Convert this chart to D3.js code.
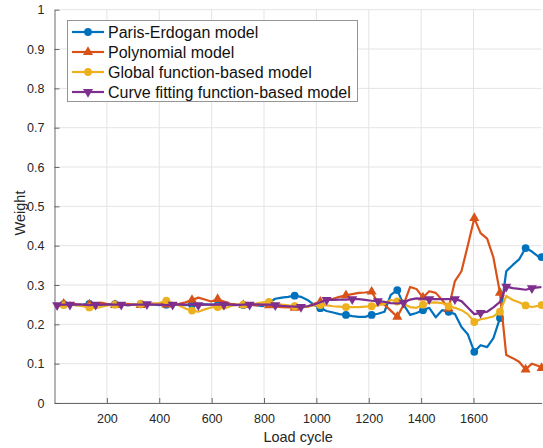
<!DOCTYPE html>
<html>
<head>
<meta charset="utf-8">
<script src="https://cdn.jsdelivr.net/npm/d3@7/dist/d3.min.js"></script>
<style>
	body { margin: 0; background: #fff; }
	svg { display: block; font-family: "Liberation Sans", Arial, Helvetica, sans-serif; }
</style>
</head>
<body>
<svg id="chart" width="543" height="448"></svg>
<script>

// Load cycles where the weights were sampled
const loadCycles = [10, 35, 59, 84, 108, 133, 157, 182, 206, 231,
	255, 280, 304, 329, 353, 378, 402, 427, 451, 476,
	500, 525, 549, 574, 598, 623, 647, 672, 696, 721,
	745, 770, 794, 819, 843, 868, 892, 917, 941, 966,
	990, 1015, 1039, 1064, 1088, 1113, 1137, 1162, 1186, 1211,
	1235, 1260, 1284, 1309, 1333, 1358, 1382, 1407, 1431, 1456,
	1480, 1505, 1529, 1554, 1578, 1603, 1627, 1652, 1676, 1701,
	1725, 1750, 1774, 1799, 1823, 1848, 1860];

// Weights
const parisErdogan = [0.25, 0.251, 0.25, 0.249, 0.25, 0.252, 0.251, 0.249, 0.25, 0.251,
	0.25, 0.249, 0.25, 0.251, 0.252, 0.25, 0.249, 0.25, 0.251, 0.25,
	0.249, 0.25, 0.252, 0.251, 0.25, 0.249, 0.25, 0.251, 0.25, 0.249,
	0.25, 0.249, 0.246, 0.255, 0.265, 0.268, 0.27, 0.273, 0.27, 0.262,
	0.25, 0.241, 0.234, 0.23, 0.226, 0.224, 0.221, 0.219, 0.219, 0.224,
	0.227, 0.232, 0.275, 0.287, 0.25, 0.224, 0.229, 0.236, 0.242, 0.218,
	0.236, 0.232, 0.226, 0.193, 0.175, 0.13, 0.147, 0.142, 0.165, 0.216,
	0.335, 0.351, 0.365, 0.394, 0.385, 0.372, 0.371];

const polynomial = [0.25, 0.252, 0.255, 0.251, 0.249, 0.25, 0.253, 0.255, 0.251, 0.249,
	0.25, 0.252, 0.25, 0.249, 0.251, 0.253, 0.252, 0.25, 0.249, 0.252,
	0.256, 0.262, 0.268, 0.263, 0.258, 0.264, 0.258, 0.252, 0.25, 0.249,
	0.25, 0.248, 0.25, 0.248, 0.245, 0.244, 0.243, 0.242, 0.243, 0.245,
	0.252, 0.257, 0.262, 0.265, 0.27, 0.274, 0.277, 0.28, 0.281, 0.283,
	0.255, 0.25, 0.235, 0.219, 0.25, 0.295, 0.29, 0.268, 0.284, 0.28,
	0.262, 0.24, 0.31, 0.335, 0.40, 0.47, 0.432, 0.418, 0.37, 0.28,
	0.122, 0.114, 0.105, 0.085, 0.1, 0.094, 0.089];

const globalFunction = [0.25, 0.249, 0.251, 0.248, 0.246, 0.243, 0.241, 0.245, 0.249, 0.25,
	0.251, 0.249, 0.25, 0.252, 0.25, 0.251, 0.255, 0.26, 0.254, 0.248,
	0.24, 0.235, 0.232, 0.238, 0.243, 0.244, 0.24, 0.246, 0.25, 0.25,
	0.251, 0.253, 0.256, 0.257, 0.253, 0.25, 0.248, 0.246, 0.244, 0.245,
	0.248, 0.249, 0.248, 0.246, 0.245, 0.244, 0.244, 0.244, 0.245, 0.246,
	0.248, 0.252, 0.262, 0.258, 0.252, 0.244, 0.242, 0.25, 0.255, 0.256,
	0.254, 0.246, 0.242, 0.236, 0.226, 0.206, 0.213, 0.216, 0.22, 0.232,
	0.272, 0.262, 0.256, 0.248, 0.244, 0.247, 0.249];

const curveFitting = [0.249, 0.25, 0.25, 0.251, 0.25, 0.249, 0.25, 0.25, 0.251, 0.25,
	0.25, 0.249, 0.25, 0.25, 0.251, 0.25, 0.25, 0.249, 0.25, 0.251,
	0.25, 0.25, 0.249, 0.25, 0.25, 0.251, 0.25, 0.25, 0.249, 0.25,
	0.25, 0.251, 0.25, 0.25, 0.249, 0.247, 0.246, 0.245, 0.244, 0.246,
	0.25, 0.256, 0.262, 0.262, 0.263, 0.263, 0.264, 0.264, 0.262, 0.26,
	0.259, 0.257, 0.254, 0.253, 0.255, 0.263, 0.266, 0.265, 0.264, 0.264,
	0.264, 0.264, 0.264, 0.259, 0.243, 0.226, 0.229, 0.232, 0.243, 0.257,
	0.296, 0.292, 0.29, 0.288, 0.292, 0.294, 0.295];

const seriesNames = ["Paris-Erdogan model", "Polynomial model",
	"Global function-based model", "Curve fitting function-based model"];

const xTicks = [200, 400, 600, 800, 1000, 1200, 1400, 1600];
const yTicks = [0, 0.1, 0.2, 0.3, 0.4, 0.5, 0.6, 0.7, 0.8, 0.9, 1];

// Style of every series (MATLAB default colour order)
const styles = [
	{ color: "#0072BD", symbol: "circle", markEvery: 1 },
	{ color: "#D95319", symbol: "up", markEvery: 1 },
	{ color: "#EDB120", symbol: "circle", markEvery: 1 },
	{ color: "#7E2F8E", symbol: "down", markEvery: 2 }
];

const svg = d3.select("#chart");
const plotLeft = 54.5, plotRight = 541.6, plotTop = 9.7, plotBottom = 403;

const x = d3.scaleLinear().domain([0, 1860]).range([plotLeft, plotRight]);
const y = d3.scaleLinear().domain([0, 1]).range([plotBottom, plotTop]);

// Grid
svg.append("g").selectAll("line").data(xTicks).join("line")
	.attr("x1", d => x(d)).attr("x2", d => x(d))
	.attr("y1", plotTop).attr("y2", plotBottom)
	.attr("stroke", "#e4e4e4").attr("stroke-width", 1);
svg.append("g").selectAll("line").data(yTicks).join("line")
	.attr("x1", plotLeft).attr("x2", plotRight)
	.attr("y1", d => y(d)).attr("y2", d => y(d))
	.attr("stroke", "#e4e4e4").attr("stroke-width", 1);

// Axes, ticks pointing inside
const xAxis = svg.append("g")
	.attr("transform", `translate(0,${plotBottom})`)
	.call(d3.axisBottom(x).tickValues(xTicks).tickSizeInner(-5).tickSizeOuter(0).tickPadding(11)
		.tickFormat(d3.format("d")));
const yAxis = svg.append("g")
	.attr("transform", `translate(${plotLeft},0)`)
	.call(d3.axisLeft(y).tickValues(yTicks).tickSizeInner(-5).tickSizeOuter(0).tickPadding(10)
		.tickFormat(d => String(+d.toFixed(1))));

[xAxis, yAxis].forEach(a => {
	a.select(".domain").attr("stroke", "#5a5a5a").attr("stroke-width", 0.9);
	a.selectAll(".tick line").attr("stroke", "#5a5a5a").attr("stroke-width", 0.9);
	a.selectAll(".tick text").attr("fill", "#262626").attr("font-size", 12.5)
		.attr("font-family", "Liberation Sans, Arial, sans-serif");
});

// Axis labels
svg.append("text")
	.attr("x", (plotLeft + plotRight) / 2).attr("y", 442)
	.attr("text-anchor", "middle").attr("font-size", 14.5).attr("fill", "#262626")
	.text("Load cycle");
svg.append("text")
	.attr("transform", "translate(25,213) rotate(-90)")
	.attr("text-anchor", "middle").attr("font-size", 14.5).attr("fill", "#262626")
	.text("Weight");

// Clip lines to the axes
svg.append("clipPath").attr("id", "plotClip")
	.append("rect").attr("x", plotLeft).attr("y", plotTop)
	.attr("width", plotRight - plotLeft).attr("height", plotBottom - plotTop);

// Marker shape
function markerPath(symbol, size) {
	if (symbol === "circle") return d3.symbol(d3.symbolCircle, size)();
	return d3.symbol(d3.symbolTriangle, size)();
}

const allSeries = [parisErdogan, polynomial, globalFunction, curveFitting];
const line = d3.line().x(d => x(d[0])).y(d => y(d[1]));

allSeries.forEach((values, s) => {
	const st = styles[s];
	const points = loadCycles.map((c, i) => [c, values[i], i]);
	const g = svg.append("g");

	g.append("path")
		.datum(points)
		.attr("d", line)
		.attr("clip-path", "url(#plotClip)")
		.attr("fill", "none")
		.attr("stroke", st.color)
		.attr("stroke-width", 2.2)
		.attr("stroke-linejoin", "round");

	// Markers every 4th sample, plus first/last point
	const last = points.length - 1;
	const marked = points.filter(p => p[2] % 4 === st.markEvery ||
		(st.symbol !== "down" && p[2] === last) || (st.symbol === "down" && p[2] === 0));

	g.selectAll("path.mk").data(marked).join("path")
		.attr("class", "mk")
		.attr("d", markerPath(st.symbol, st.symbol === "circle" ? 48 : 44))
		.attr("transform", p => `translate(${x(p[0])},${y(p[1])})` + (st.symbol === "down" ? " rotate(180)" : ""))
		.attr("fill", st.color);
});

// Legend
const legend = svg.append("g");
legend.append("rect")
	.attr("x", 67.5).attr("y", 20.5).attr("width", 290).attr("height", 81)
	.attr("fill", "#fff").attr("stroke", "#8a8a8a").attr("stroke-width", 0.9);

seriesNames.forEach((name, s) => {
	const st = styles[s];
	const ly = 32 + s * 20;
	legend.append("line")
		.attr("x1", 72).attr("x2", 104).attr("y1", ly).attr("y2", ly)
		.attr("stroke", st.color).attr("stroke-width", 2.2);
	legend.append("path")
		.attr("d", markerPath(st.symbol, st.symbol === "circle" ? 48 : 44))
		.attr("transform", `translate(88,${ly})` + (st.symbol === "down" ? " rotate(180)" : ""))
		.attr("fill", st.color);
	legend.append("text")
		.attr("x", 108).attr("y", ly).attr("dy", "0.35em")
		.attr("font-size", 16).attr("fill", "#111")
		.text(name);
});

</script>
</body>
</html>
